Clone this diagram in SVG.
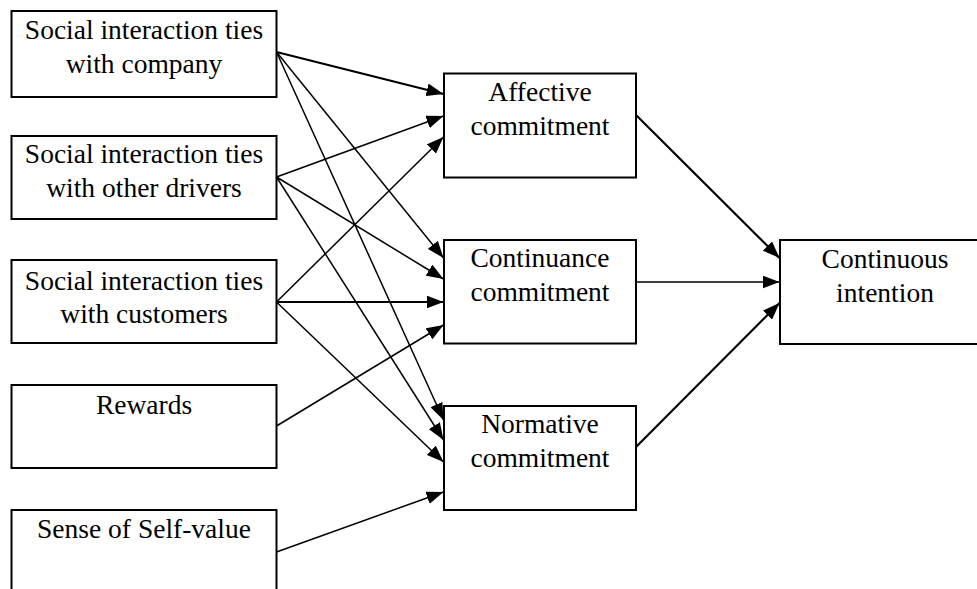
<svg xmlns="http://www.w3.org/2000/svg" width="977" height="589" viewBox="0 0 977 589">
<style>
.box{fill:#fff;stroke:#000;stroke-width:2}
.t{font-family:"Liberation Serif","Times New Roman",serif;font-size:27.5px;fill:#000;text-anchor:middle}
.c{fill:none;stroke:#000;stroke-width:1.5;marker-end:url(#ah)}
.k{stroke-width:2.2}
</style>
<defs>
<marker id="ah" viewBox="0 0 17 13" refX="17" refY="6.5" markerWidth="17" markerHeight="13" markerUnits="userSpaceOnUse" orient="auto">
<path d="M0,0 L17,6.5 L0,13 z" fill="#000"/>
</marker>
</defs>
<rect width="977" height="589" fill="#fff"/>
<g id="connectors">
<path class="c k" d="M276.5,52 L443.5,94"/>
<path class="c" d="M276.5,52 L443.5,258"/>
<path class="c" d="M276.5,52 L443.5,420"/>
<path class="c" d="M276.5,177 L443.5,116"/>
<path class="c" d="M276.5,177 L443.5,279"/>
<path class="c" d="M276.5,177 L443.5,440"/>
<path class="c" d="M276.5,302 L443.5,137"/>
<path class="c k" d="M276.5,302 L443.5,302"/>
<path class="c" d="M276.5,302 L443.5,462"/>
<path class="c" d="M276.5,426 L443.5,325"/>
<path class="c" d="M276.5,552 L443.5,492"/>
<path class="c k" d="M636,115 L779.5,258"/>
<path class="c" d="M636,282 L779.5,282"/>
<path class="c k" d="M636,447 L779.5,303"/>
</g>
<g id="n1"><rect class="box" x="11.5" y="11" width="265" height="86"/><text class="t" x="144" y="38.5">Social interaction ties</text><text class="t" x="144" y="73">with company</text></g>
<g id="n2"><rect class="box" x="11.5" y="136" width="265" height="83"/><text class="t" x="144" y="162.5">Social interaction ties</text><text class="t" x="144" y="197">with other drivers</text></g>
<g id="n3"><rect class="box" x="11.5" y="260" width="265" height="83"/><text class="t" x="144" y="289.5">Social interaction ties</text><text class="t" x="144" y="323">with customers</text></g>
<g id="n4"><rect class="box" x="11.5" y="385" width="265" height="83"/><text class="t" x="144" y="413.5">Rewards</text></g>
<g id="n5"><rect class="box" x="11.5" y="510" width="265" height="90"/><text class="t" x="144" y="538">Sense of Self-value</text></g>
<g id="m1"><rect class="box" x="444" y="73.5" width="192" height="104"/><text class="t" x="540" y="101">Affective</text><text class="t" x="540" y="135">commitment</text></g>
<g id="m2"><rect class="box" x="444" y="240" width="192" height="103.5"/><text class="t" x="540" y="267">Continuance</text><text class="t" x="540" y="301">commitment</text></g>
<g id="m3"><rect class="box" x="444" y="406" width="192" height="104"/><text class="t" x="540" y="433">Normative</text><text class="t" x="540" y="467">commitment</text></g>
<g id="r1"><rect class="box" x="780" y="240" width="210" height="104"/><text class="t" x="885" y="268">Continuous</text><text class="t" x="885" y="302">intention</text></g>
</svg>
